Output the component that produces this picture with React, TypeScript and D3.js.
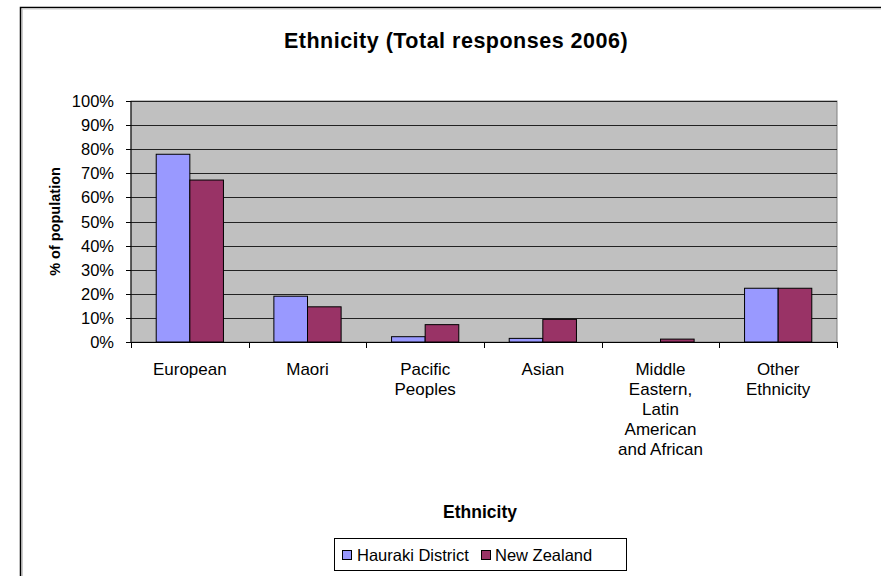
import React from "react";
import * as d3 from "d3";

const categories: string[][] = [
  ["European"],
  ["Maori"],
  ["Pacific", "Peoples"],
  ["Asian"],
  ["Middle", "Eastern,", "Latin", "American", "and African"],
  ["Other", "Ethnicity"],
];
const hauraki: number[] = [0.779, 0.19, 0.022, 0.015, 0.0, 0.223];
const newZealand: number[] = [0.672, 0.146, 0.072, 0.094, 0.012, 0.223];
const seriesNames: string[] = ["Hauraki District", "New Zealand"];
const yTicks: number[] = [0, 0.1, 0.2, 0.3, 0.4, 0.5, 0.6, 0.7, 0.8, 0.9, 1.0];

const colors = ["#9999FF", "#993366"];
const FONT = "'Liberation Sans', Arial, sans-serif";

export default function App() {
  const W = 881, H = 576;
  const left = 131, right = 837, top = 101, bottom = 342;
  const x0 = d3.scaleBand<number>().domain(d3.range(categories.length)).range([left, right]).paddingInner(0).paddingOuter(0);
  const y = d3.scaleLinear().domain([0, 1]).range([bottom, top]);
  const bw = x0.bandwidth() / 3.5;
  const groupOff = (x0.bandwidth() - 2 * bw) / 2;
  const series = [hauraki, newZealand];
  const fmt = d3.format(".0%");

  return (
    <svg width={W} height={H} style={{ position: "absolute", left: 0, top: 0, background: "#fff" }} fontFamily={FONT}>
      <rect x={0} y={0} width={W} height={H} fill="#fff" />
      {/* chart outer border */}
      <rect x={20.5} y={7.5} width={W + 20} height={H + 20} fill="none" stroke="#000" strokeWidth={1.5} />
      <line x1={22} y1={9} x2={22} y2={H} stroke="#999" strokeWidth={1} />
      <line x1={22} y1={9} x2={W} y2={9} stroke="#ccc" strokeWidth={1} />
      <text x={456} y={48} textAnchor="middle" fontSize={21.5} fontWeight="bold" letterSpacing={0.5}>Ethnicity (Total responses 2006)</text>

      {/* plot area */}
      <rect x={left} y={top} width={right - left} height={bottom - top} fill="#C0C0C0" stroke="#808080" strokeWidth={1} />
      {yTicks.filter(t => t > 0).map((t, i) => (
        <line key={"g" + i} x1={left} x2={right} y1={Math.round(y(t)) + 0.5} y2={Math.round(y(t)) + 0.5} stroke="#222" strokeWidth={1} />
      ))}

      {series.map((s, si) =>
        s.map((v, ci) => (
          v > 0 ? (
            <rect key={`b${si}-${ci}`} x={(x0(ci) as number) + groupOff + si * bw} y={y(v)} width={bw} height={bottom - y(v)}
              fill={colors[si]} stroke="#000" strokeWidth={1} />
          ) : null
        ))
      )}

      {/* axes */}
      <line x1={left} x2={left} y1={top} y2={bottom} stroke="#000" />
      <line x1={left} x2={right} y1={bottom + 0.5} y2={bottom + 0.5} stroke="#000" />
      {yTicks.map((t, i) => (
        <g key={"yt" + i}>
          <line x1={left - 5} x2={left} y1={Math.round(y(t)) + 0.5} y2={Math.round(y(t)) + 0.5} stroke="#000" />
          <text x={114} y={y(t) + 6} textAnchor="end" fontSize={16.5}>{fmt(t)}</text>
        </g>
      ))}
      {d3.range(categories.length + 1).map(i => {
        const xx = Math.round(left + i * x0.bandwidth()) + 0.5;
        return <line key={"xt" + i} x1={xx} x2={xx} y1={bottom} y2={bottom + 6} stroke="#000" />;
      })}
      {categories.map((lines, ci) => (
        <text key={"c" + ci} textAnchor="middle" fontSize={17}>
          {lines.map((l, li) => (
            <tspan key={li} x={(x0(ci) as number) + x0.bandwidth() / 2} y={375 + li * 20}>{l}</tspan>
          ))}
        </text>
      ))}

      <text x={480} y={518} textAnchor="middle" fontSize={17.5} fontWeight="bold">Ethnicity</text>
      <text transform={`translate(60,${(top + bottom) / 2}) rotate(-90)`} textAnchor="middle" fontSize={14.5} fontWeight="bold">% of population</text>

      {/* legend */}
      <rect x={334.5} y={538.5} width={292} height={32} fill="#fff" stroke="#000" strokeWidth={1} />
      <rect x={342.5} y={550.5} width={9} height={9} fill={colors[0]} stroke="#000" />
      <text x={357} y={561} fontSize={16.5}>{seriesNames[0]}</text>
      <rect x={481.5} y={550.5} width={9} height={9} fill={colors[1]} stroke="#000" />
      <text x={495} y={561} fontSize={16.5}>{seriesNames[1]}</text>
    </svg>
  );
}
